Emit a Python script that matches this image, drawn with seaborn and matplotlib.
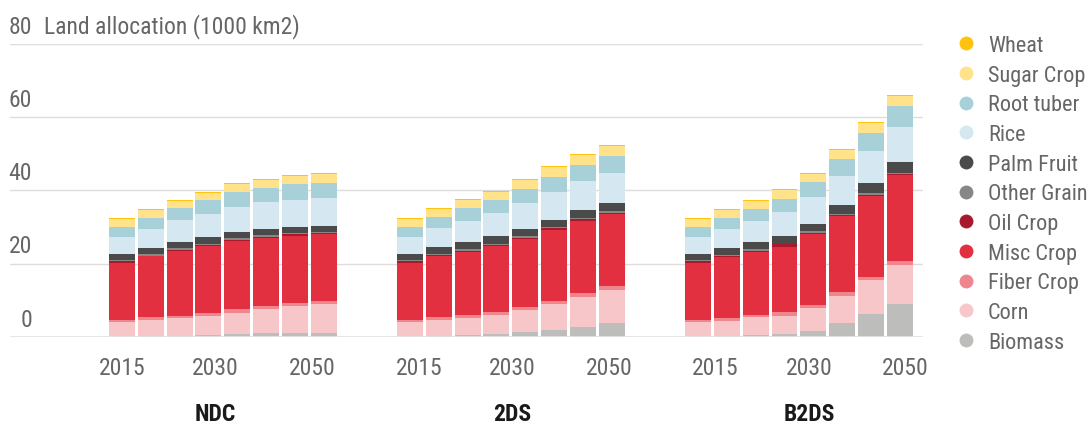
import matplotlib
matplotlib.use("Agg")
import matplotlib.pyplot as plt
from matplotlib.lines import Line2D
from matplotlib import font_manager as fm
import seaborn as sns
import pandas as pd
import numpy as np

# ---------------- data ----------------
scenarios = ["NDC", "2DS", "B2DS"]
years = [2015, 2020, 2025, 2030, 2035, 2040, 2045, 2050]
tick_years = ["2015", "2030", "2050"]
y_ticks = [0, 20, 40, 60, 80]
y_title = "Land allocation (1000 km2)"

# legend / stacking order (top of stack first)
crops = ["Wheat", "Sugar Crop", "Root tuber", "Rice", "Palm Fruit", "Other Grain",
         "Oil Crop", "Misc Crop", "Fiber Crop", "Corn", "Biomass"]

# values: NDC (8 years) + 2DS (8 years) + B2DS (8 years)
wheat = [0.27, 0.27, 0.27, 0.27, 0.27, 0.27, 0.27, 0.27,
         0.27, 0.27, 0.27, 0.36, 0.27, 0.27, 0.27, 0.27,
         0.27, 0.27, 0.27, 0.27, 0.27, 0.27, 0.27, 0.27]
sugar_crop = [2.19, 2.19, 1.91, 1.91, 2.19, 2.19, 2.19, 2.46,
              2.19, 2.19, 2.19, 2.19, 2.46, 2.73, 2.73, 2.73,
              2.19, 2.19, 2.19, 2.47, 2.19, 2.47, 2.74, 2.74]
root_tuber = [2.73, 3.00, 3.28, 3.83, 4.10, 3.83, 4.37, 4.10,
              2.73, 3.00, 3.55, 3.55, 3.83, 4.10, 4.37, 4.64,
              2.73, 3.01, 3.29, 3.56, 4.11, 4.66, 4.93, 5.75]
rice = [4.64, 5.19, 6.01, 6.28, 6.83, 7.38, 7.38, 7.65,
        4.64, 5.19, 5.74, 6.28, 7.10, 7.65, 7.92, 8.20,
        4.64, 5.20, 5.75, 6.58, 7.40, 7.95, 8.77, 9.59]
palm_fruit = [1.64, 1.64, 1.64, 1.91, 1.64, 1.64, 1.64, 1.64,
              1.64, 1.91, 1.91, 2.19, 1.91, 1.91, 2.19, 2.19,
              1.64, 1.92, 1.92, 1.92, 1.92, 2.47, 2.74, 3.01]
other_grain = [0.30, 0.55, 0.55, 0.27, 0.55, 0.55, 0.27, 0.27,
               0.30, 0.27, 0.55, 0.27, 0.55, 0.27, 0.27, 0.55,
               0.30, 0.27, 0.55, 0.27, 0.55, 0.27, 0.55, 0.27]
oil_crop = [0.40, 0.10, 0.27, 0.27, 0.27, 0.27, 0.55, 0.27,
            0.40, 0.27, 0.27, 0.27, 0.27, 0.55, 0.55, 0.27,
            0.40, 0.27, 0.27, 0.55, 0.27, 0.27, 0.27, 0.27]
misc_crop = [15.60, 16.67, 17.76, 18.30, 18.58, 18.58, 18.30, 18.30,
             15.60, 16.67, 17.20, 18.03, 18.58, 19.40, 19.67, 19.67,
             15.60, 16.70, 17.26, 17.80, 19.18, 20.55, 21.90, 23.30]
fiber_crop = [0.55, 0.82, 0.55, 0.82, 1.09, 0.82, 0.82, 0.82,
              0.55, 0.82, 0.82, 0.82, 0.82, 0.82, 1.09, 1.09,
              0.55, 0.82, 0.55, 1.10, 0.82, 1.10, 0.82, 1.10]
corn = [4.00, 4.28, 4.83, 5.10, 5.74, 6.56, 7.38, 7.92,
        4.00, 4.28, 4.55, 5.19, 6.01, 7.10, 8.20, 9.02,
        4.00, 4.10, 4.93, 4.93, 6.30, 7.40, 9.32, 10.68]
biomass = [0.05, 0.27, 0.27, 0.55, 0.73, 1.00, 1.00, 1.00,
           0.05, 0.27, 0.55, 0.73, 1.28, 1.82, 2.64, 3.73,
           0.05, 0.27, 0.37, 0.82, 1.64, 3.84, 6.30, 9.04]

series = {"Wheat": wheat, "Sugar Crop": sugar_crop, "Root tuber": root_tuber,
          "Rice": rice, "Palm Fruit": palm_fruit, "Other Grain": other_grain,
          "Oil Crop": oil_crop, "Misc Crop": misc_crop, "Fiber Crop": fiber_crop,
          "Corn": corn, "Biomass": biomass}

colors = {"Wheat": "#FFC20E", "Sugar Crop": "#FFE28A", "Root tuber": "#A7D0D9",
          "Rice": "#D5E8F1", "Palm Fruit": "#4A4A4A", "Other Grain": "#878787",
          "Oil Crop": "#A71A2E", "Misc Crop": "#E33041", "Fiber Crop": "#F0868D",
          "Corn": "#F7C6C9", "Biomass": "#BDBDBC"}

# ---------------- build long table ----------------
group_gap = 10  # slots per scenario block (8 bars + 2 empty)
rows = []
for crop in crops:
    vals = series[crop]
    for si, sc in enumerate(scenarios):
        for yi, yr in enumerate(years):
            rows.append({"pos": si * group_gap + yi, "crop": crop,
                         "scenario": sc, "year": yr,
                         "value": vals[si * len(years) + yi]})
df = pd.DataFrame(rows)

# ---------------- style ----------------
sns.set_theme(style="white")


def pick_condensed():
    """Find an installed narrow/condensed sans family (name, stretch)."""
    ttf = fm.fontManager.ttflist
    prefs = [("Roboto Condensed", None), ("Liberation Sans Narrow", None),
             ("Noto Sans", "condensed"), ("Noto Sans", "semi-condensed"),
             ("DejaVu Sans", "condensed"), ("Open Sans", "condensed"),
             ("Open Sans", "semi-condensed"), ("Noto Sans Condensed", None),
             ("DejaVu Sans Condensed", None), ("Open Sans Condensed", None)]
    for name, stretch in prefs:
        for f in ttf:
            if f.name == name and (stretch is None or str(f.stretch) == stretch):
                return name, (stretch or "normal")
    return None, None


cname, cstretch = pick_condensed()
if cname:
    plt.rcParams["font.family"] = [cname, "DejaVu Sans"]
    plt.rcParams["font.stretch"] = cstretch
    fs = 17
    lfs = 16
else:
    plt.rcParams["font.family"] = ["Roboto", "DejaVu Sans"]
    fs = 15
    lfs = 13.5
text_grey = "#666666"

W, H = 1092, 435
fig = plt.figure(figsize=(W / 100, H / 100), dpi=100)
left_px, right_px, base_px, top_px = 10, 923, 337.7, 45
ax = fig.add_axes([left_px / W, (H - base_px) / H,
                   (right_px - left_px) / W, (base_px - top_px) / H])

sns.histplot(data=df, x="pos", weights="value", hue="crop", hue_order=crops,
             palette=colors, multiple="stack", discrete=True, shrink=0.9,
             linewidth=0, alpha=1, legend=False, ax=ax, zorder=3)

ax.set_xlim(-3.89, 27.81)
ax.set_ylim(0, 80)
for s in ax.spines.values():
    s.set_visible(False)
ax.set_xlabel("")
ax.set_ylabel("")
ax.set_yticks([])

# horizontal gridlines
for v in y_ticks:
    ax.axhline(v, color="#e3e3e3" if v == 0 else "#dddddd",
               lw=2.0 if v == 0 else 1.0, zorder=1 if v else 4)
    ax.annotate(str(v), xy=((32 - left_px) / (right_px - left_px), v),
                xycoords=("axes fraction", "data"), xytext=(0, 8),
                textcoords="offset points", ha="right", va="baseline",
                fontsize=fs, color=text_grey)
ax.annotate(y_title, xy=((44 - left_px) / (right_px - left_px), 80),
            xycoords=("axes fraction", "data"), xytext=(0, 8),
            textcoords="offset points", ha="left", va="baseline",
            fontsize=fs, color=text_grey)

# x ticks (sparse year labels) and scenario labels
within = [0.0, 3.25, 6.6]
tick_pos, tick_lab = [], []
for si, sc in enumerate(scenarios):
    off = si * (group_gap + 0.3)
    for w, lab in zip(within, tick_years):
        tick_pos.append(off + w)
        tick_lab.append(lab)
    ax.annotate(sc, xy=(off + within[1], 0), xycoords=("data", "data"),
                xytext=(0, -60), textcoords="offset points", ha="center",
                va="baseline", fontsize=fs, fontweight="bold", color="#1a1a1a")
ax.set_xticks(tick_pos, tick_lab)
ax.tick_params(axis="x", length=0, pad=14, labelsize=fs, labelcolor=text_grey)

# legend
handles = [Line2D([], [], marker="o", ls="", markersize=10,
                  markerfacecolor=colors[c], markeredgewidth=0) for c in crops]
fig.legend(handles, crops, loc="upper left", bbox_to_anchor=(957 / W, (H - 36) / H),
           frameon=False, fontsize=lfs, labelcolor=text_grey, handlelength=0.8,
           handletextpad=0.6, labelspacing=0.39 * 16 / lfs, borderpad=0,
           borderaxespad=0)

fig.savefig("out.png", dpi=100)
